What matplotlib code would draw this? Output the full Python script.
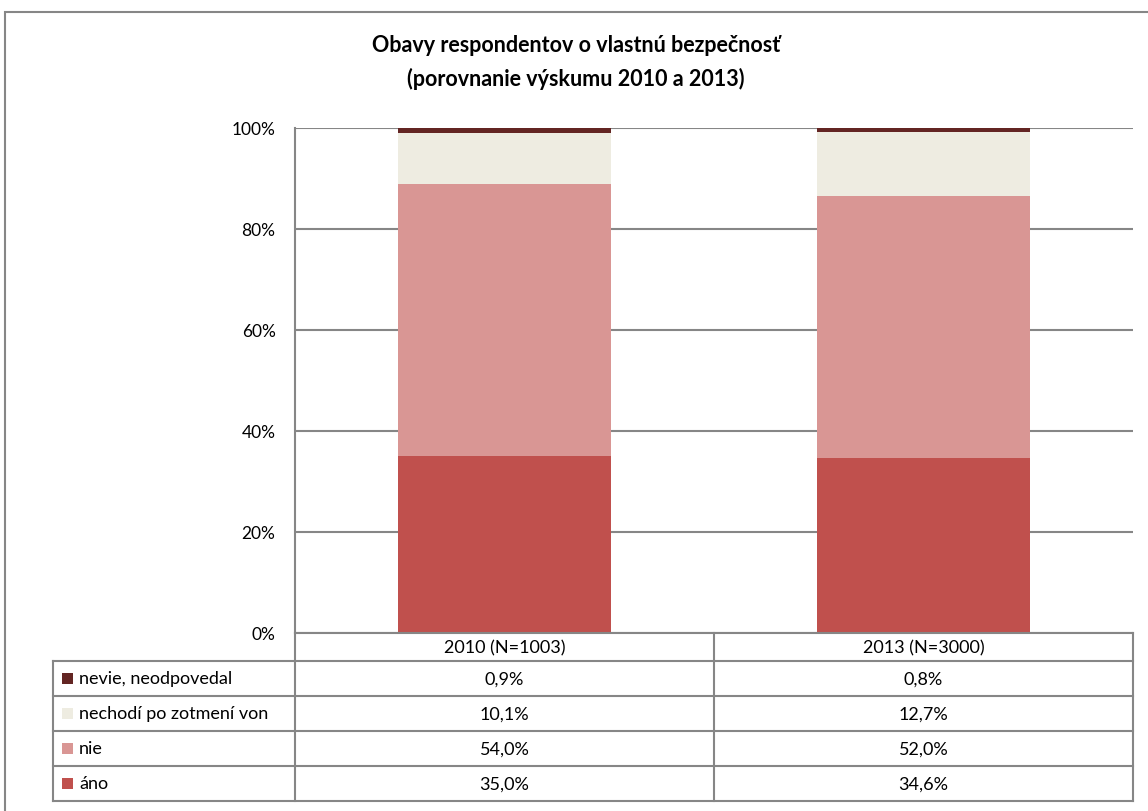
import matplotlib.pyplot as plt
import numpy as np
from matplotlib.patches import Rectangle
from matplotlib.lines import Line2D

plt.rcParams['font.family'] = ['Lato', 'DejaVu Sans']

# data
years = ['2010 (N=1003)', '2013 (N=3000)']
series = ['áno', 'nie', 'nechodí po zotmení von', 'nevie, neodpovedal']
ano = [35.0, 34.6]
nie = [54.0, 52.0]
nechodi = [10.1, 12.7]
nevie = [0.9, 0.8]
colors = ['#C0504D', '#D99694', '#EEECE1', '#632523']
grid_col = '#868686'

W, H = 1148, 812
fig = plt.figure(figsize=(W / 100, H / 100), dpi=100)

def fx(px):
    return px / W

def fy(py):
    return 1 - py / H

# outer frame
fig.add_artist(Rectangle((fx(5), -0.01), 1.0, fy(13) + 0.01, transform=fig.transFigure,
                         fill=False, edgecolor=grid_col, lw=1.5))

fig.text(fx(576), fy(46), 'Obavy respondentov o vlastnú bezpečnosť', ha='center', va='center',
         fontsize=15.5, fontweight='bold')
fig.text(fx(576), fy(79), '(porovnanie výskumu 2010 a 2013)', ha='center', va='center',
         fontsize=15.5, fontweight='bold')

# plot area
left, right, top, bottom = 295, 1133, 129, 634
ax = fig.add_axes([fx(left), fy(bottom), fx(right - left), (bottom - top) / H])
x = np.arange(len(years))
vals = [ano, nie, nechodi, nevie]
base = np.zeros(len(years))
for v, c in zip(vals, colors):
    ax.bar(x, v, bottom=base, width=0.51, color=c, zorder=3)
    base += np.array(v)

ax.set_xlim(-0.5, 1.5)
ax.set_ylim(0, 100)
ax.set_yticks(np.arange(0, 101, 20))
ax.set_yticklabels([f'{t}%' for t in range(0, 101, 20)], fontsize=12.5)
ax.set_xticks([])
ax.tick_params(axis='y', length=0, pad=14)
ax.grid(axis='y', color=grid_col, lw=1.5, zorder=0)
for s in ['top', 'right', 'bottom']:
    ax.spines[s].set_visible(False)
ax.spines['left'].set_color(grid_col)
ax.spines['left'].set_linewidth(1.5)

# data table under the chart
tl, cm = 53, 714
rows_y = [634, 662, 697, 732, 767, 802]
fs = 13

def hline(x0, x1, y):
    fig.add_artist(Line2D([fx(x0), fx(x1)], [fy(y), fy(y)], transform=fig.transFigure,
                          color=grid_col, lw=1.5))

def vline(xp, y0, y1):
    fig.add_artist(Line2D([fx(xp), fx(xp)], [fy(y0), fy(y1)], transform=fig.transFigure,
                          color=grid_col, lw=1.5))

hline(left, right, rows_y[0])
for yy in rows_y[1:]:
    hline(tl, right, yy)
vline(left, rows_y[0], rows_y[-1])
vline(cm, rows_y[0], rows_y[-1])
vline(right, rows_y[0], rows_y[-1])
vline(tl, rows_y[1], rows_y[-1])

col_cx = [(left + cm) / 2, (cm + right) / 2]
for cx, yr in zip(col_cx, years):
    fig.text(fx(cx), fy((rows_y[0] + rows_y[1]) / 2), yr, ha='center', va='center', fontsize=fs)

order = [3, 2, 1, 0]
for r, k in enumerate(order):
    cy = (rows_y[r + 1] + rows_y[r + 2]) / 2
    fig.add_artist(Rectangle((fx(62), fy(cy + 5.5)), fx(11), 11 / H, transform=fig.transFigure,
                             facecolor=colors[k], edgecolor='none'))
    fig.text(fx(79), fy(cy), series[k], ha='left', va='center', fontsize=fs)
    for cx, v in zip(col_cx, vals[k]):
        fig.text(fx(cx), fy(cy), f'{v:.1f}%'.replace('.', ','), ha='center', va='center', fontsize=fs)

plt.savefig('out.png', dpi=100)
